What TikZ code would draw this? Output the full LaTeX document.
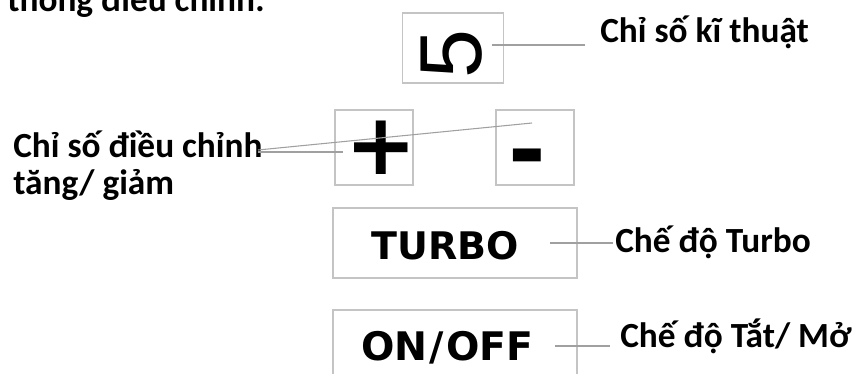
\documentclass[tikz,border=0pt]{standalone}
\usepackage{fontspec}
\setmainfont{Carlito}
\newfontfamily\btnfont{DejaVu Sans}
\newfontfamily\digfont{Liberation Sans}
\definecolor{boxgray}{HTML}{C4C4C4}
\definecolor{linegray}{HTML}{A0A0A0}
\begin{document}
\begin{tikzpicture}[x=0.75pt,y=-0.75pt,
  btn/.style={draw=boxgray, line width=1.2pt, inner sep=0pt},
  lbl/.style={font=\bfseries\fontsize{26.5}{30}\selectfont, text=black, inner sep=0pt, anchor=base west},
  btntext/.style={font=\btnfont\bfseries\fontsize{28.5}{30}\selectfont, inner sep=0pt, anchor=base},
  lead/.style={draw=linegray, line width=0.8pt}]
\useasboundingbox (0,0) rectangle (858,374);
\clip (0,0) rectangle (858,374);
% top caption (cut off at the top edge, as in the source)
\node[lbl] (cap) at (7,12) {thông điều chỉnh:};
% technical index box
\node[btn, minimum width=75.75pt, minimum height=52.5pt] (fivebox) at (453,48) {};
\node[font=\digfont\fontsize{66}{66}\selectfont, rotate=90, inner sep=0pt] (five) at (451.5,54) {5};
\node[lbl] (lfive) at (600,43) {Chỉ số kĩ thuật};
\coordinate (f1) at (492,45);
\coordinate (f2) at (585,45);
\draw[lead] (f1) -- (f2);
% plus / minus
\node[btn, minimum width=58.5pt, minimum height=56.25pt] (plusbox) at (374,147.5) {};
\node[btn, minimum width=58.5pt, minimum height=56.25pt] (minusbox) at (535,147.5) {};
\node[font=\btnfont\bfseries\fontsize{64}{64}\selectfont, inner sep=0pt] (plus) at (381,147.5) {+};
\node[font=\btnfont\bfseries\fontsize{68}{68}\selectfont, inner sep=0pt, anchor=base] (minus) at (527,182) {-};
\node[lbl] (ladj) at (13,158) {Chỉ số điều chỉnh};
\node[lbl] (ladj2) at (13,195) {tăng/ giảm};
\coordinate (a0) at (258,150);
\coordinate (a1) at (532,123);
\coordinate (b0) at (258,152);
\coordinate (b1) at (343,152);
\draw[lead] (a0) -- (a1);
\draw[lead] (b0) -- (b1);
% turbo
\node[btn, minimum width=183pt, minimum height=52.5pt] (turbobox) at (455,243) {};
\node[btntext] (turbo) at (445,260) {TURBO};
\node[lbl] (lturbo) at (615,253) {Chế độ Turbo};
\coordinate (t1) at (550,243);
\coordinate (t2) at (613,243);
\draw[lead] (t1) -- (t2);
% on/off
\node[btn, minimum width=183pt, minimum height=60pt] (onbox) at (455,350) {};
\node[btntext, font=\btnfont\bfseries\fontsize{29.5}{30}\selectfont] (onoff) at (447.5,361) {ON\kern1.5pt/\kern1.5pt OFF};
\node[lbl] (lon) at (620,348) {Chế độ Tắt/ Mở};
\coordinate (o1) at (555,346);
\coordinate (o2) at (610,346);
\draw[lead] (o1) -- (o2);
\end{tikzpicture}
\end{document}
